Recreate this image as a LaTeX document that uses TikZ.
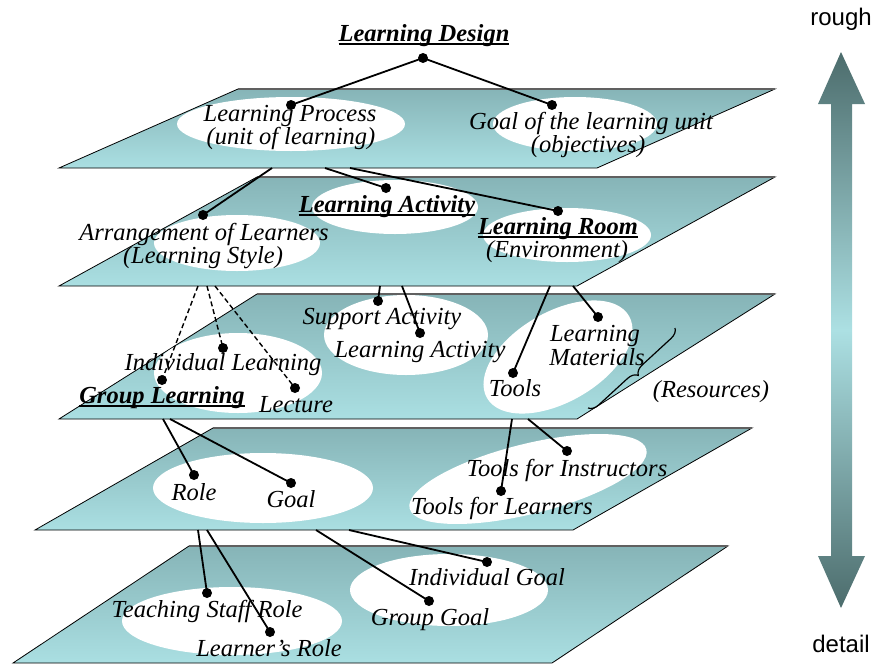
\documentclass[tikz,border=0pt]{standalone}
\usepackage{fontspec}
\setmainfont{Liberation Serif}
\newfontfamily\arialfont{Liberation Sans}
\usetikzlibrary{decorations.pathreplacing}
\definecolor{planeTop}{RGB}{134,180,183}
\definecolor{planeBot}{RGB}{170,223,226}
\definecolor{edgeGray}{RGB}{96,96,96}
\definecolor{arrowDark}{RGB}{76,108,108}
\definecolor{arrowLight}{RGB}{172,224,227}
\newsavebox\ulbox
\newcommand\myul[1]{\sbox\ulbox{#1}\rlap{\rule[-3.5pt]{\wd\ulbox}{1.6pt}}\usebox\ulbox}
\tikzset{
  plane/.style={top color=planeTop, bottom color=planeBot, draw=black, line width=0.8pt, line join=miter},
  topedge/.style={draw=edgeGray, line width=2pt},
  hole/.style={fill=white},
  lbl/.style={inner sep=0pt, anchor=base, font=\itshape\fontsize{24.5}{24}\selectfont},
  blbl/.style={inner sep=0pt, anchor=base, font=\bfseries\itshape\fontsize{24.5}{24}\selectfont},
  sidelbl/.style={inner sep=0pt, anchor=base, font=\arialfont\fontsize{24}{24}\selectfont},
  dot/.style={circle, fill=black, inner sep=0pt, minimum size=10pt},
  conn/.style={line width=1.8pt, draw=black},
  dconn/.style={line width=1.4pt, draw=black, dash pattern=on 5pt off 3pt},
}
\begin{document}
\begin{tikzpicture}[x=1pt, y=-1pt]
\useasboundingbox (0,0) rectangle (875,664);

% ---------- plane 1 ----------
\shadedraw[plane] (238,89) -- (775,89) -- (597,168) -- (59,168) -- cycle;
\draw[topedge] (238,89) -- (775,89);
\fill[hole] (291,124) ellipse [x radius=114pt, y radius=27pt];
\fill[hole] (575,124) ellipse [x radius=82pt, y radius=27pt];
\node[lbl] (tLP1) at (290,121) {Learning Process};
\node[lbl] (tLP2) at (291,144) {(unit of learning)};
\node[lbl] (tGL1) at (591,129) {Goal of the learning unit};
\node[lbl] (tGL2) at (588,152) {(objectives)};

\node[blbl] (tLD) at (424,41) {\myul{Learning Design}};
\node[dot] (dLD) at (423,58) {};
\node[dot] (dLP) at (291,105) {};
\node[dot] (dGL) at (552,105) {};
\draw[conn] (dLD.center) -- (dLP.center);
\draw[conn] (dLD.center) -- (dGL.center);

% ---------- plane 2 ----------
\shadedraw[plane] (257,177) -- (775,177) -- (577,286) -- (59,286) -- cycle;
\draw[topedge] (257,177) -- (775,177);
\fill[hole] (237,243) ellipse [x radius=83pt, y radius=28pt];
\fill[hole] (395,207) ellipse [x radius=83pt, y radius=27pt];
\fill[hole] (567,235) ellipse [x radius=84pt, y radius=27pt];
\node[lbl] (tAR1) at (204,240) {Arrangement of Learners};
\node[lbl] (tAR2) at (203,263) {(Learning Style)};
\node[blbl] (tLA) at (387,212) {\myul{Learning Activity}};
\node[blbl] (tLR1) at (558,234) {\myul{Learning Room}};
\node[lbl] (tLR2) at (557,257) {(Environment)};
\node[dot] (dAR) at (203,215) {};
\node[dot] (dLA) at (386,188) {};
\node[dot] (dLR) at (558,211) {};
\coordinate (a1) at (272,168);
\coordinate (a2) at (325,168);
\coordinate (a3) at (350,168);
\draw[conn] (a1) -- (dAR.center);
\draw[conn] (a2) -- (dLA.center);
\draw[conn] (a3) -- (dLR.center);

% ---------- plane 3 ----------
\shadedraw[plane] (257,294) -- (775,294) -- (577,419) -- (59,419) -- cycle;
\draw[topedge] (257,294) -- (775,294);
\fill[hole] (238,373) ellipse [x radius=84pt, y radius=40pt];
\fill[hole] (406,335) ellipse [x radius=82pt, y radius=40pt];
\fill[hole, rotate around={30:(558,357)}] (558,357) ellipse [x radius=82pt, y radius=45pt];
\node[lbl] (tSA) at (382,324) {Support Activity};
\node[lbl] (tLA3) at (420,357) {Learning Activity};
\node[lbl] (tIL) at (223,370) {Individual Learning};
\node[blbl] (tGLR) at (162,403) {\myul{Group Learning}};
\node[lbl] (tLEC) at (296,412) {Lecture};
\node[lbl] (tLM1) at (595,341) {Learning};
\node[lbl] (tLM2) at (597,365) {Materials};
\node[lbl] (tTO) at (515,396) {Tools};
\node[lbl] (tRES) at (711,397) {(Resources)};
\node[dot] (dGLR) at (162,380) {};
\node[dot] (dIL) at (223,348) {};
\node[dot] (dLEC) at (295,388) {};
\node[dot] (dSA) at (378,301) {};
\node[dot] (dLA3) at (420,333) {};
\node[dot] (dTO) at (513,373) {};
\node[dot] (dLM) at (598,317) {};
\coordinate (b1) at (198,286);
\coordinate (b2) at (207,286);
\coordinate (b3) at (215,286);
\coordinate (b4) at (380,286);
\coordinate (b5) at (402,286);
\coordinate (b6) at (550,286);
\coordinate (b7) at (573,286);
\draw[dconn] (b1) -- (dGLR.center);
\draw[dconn] (b2) -- (dIL.center);
\draw[dconn] (b3) -- (dLEC.center);
\draw[conn] (b4) -- (dSA.center);
\draw[conn] (b5) -- (dLA3.center);
\draw[conn] (b6) -- (dTO.center);
\draw[conn] (b7) -- (dLM.center);
\coordinate (brT) at (675,328);
\coordinate (brB) at (588,408);
\draw[line width=1.2pt, decorate, decoration={brace, amplitude=10pt}] (brT) -- (brB);

% ---------- plane 4 ----------
\shadedraw[plane] (213,428) -- (752,428) -- (573,530) -- (35,530) -- cycle;
\draw[topedge] (213,428) -- (752,428);
\fill[hole] (263,488) ellipse [x radius=110pt, y radius=35pt];
\fill[hole, rotate around={14:(528,479)}] (528,479) ellipse [x radius=122pt, y radius=35pt];
\node[lbl] (tROLE) at (194,500) {Role};
\node[lbl] (tGOAL) at (291,507) {Goal};
\node[lbl] (tTFI) at (567,476) {Tools for Instructors};
\node[lbl] (tTFL) at (502,514) {Tools for Learners};
\node[dot] (dROLE) at (194,475) {};
\node[dot] (dGOAL) at (291,483) {};
\node[dot] (dTFL) at (501,491) {};
\node[dot] (dTFI) at (567,451) {};
\coordinate (c1) at (163,419);
\coordinate (c2) at (170,419);
\coordinate (c3) at (512,419);
\coordinate (c4) at (528,419);
\draw[conn] (c1) -- (dROLE.center);
\draw[conn] (c2) -- (dGOAL.center);
\draw[conn] (c3) -- (dTFL.center);
\draw[conn] (c4) -- (dTFI.center);

% ---------- plane 5 ----------
\shadedraw[plane] (189,546) -- (728,546) -- (552,663) -- (13,663) -- cycle;
\draw[topedge] (189,546) -- (728,546);
\fill[hole] (232,621) ellipse [x radius=110pt, y radius=34pt];
\fill[hole] (449,590) ellipse [x radius=99pt, y radius=36pt];
\node[lbl] (tTSR) at (207,617) {Teaching Staff Role};
\node[lbl] (tLRR) at (269,656) {Learner’s Role};
\node[lbl] (tIG) at (487,585) {Individual Goal};
\node[lbl] (tGG) at (430,625) {Group Goal};
\node[dot] (dTSR) at (207,593) {};
\node[dot] (dLRR) at (270,632) {};
\node[dot] (dGG) at (429,601) {};
\node[dot] (dIG) at (487,562) {};
\coordinate (e1) at (198,530);
\coordinate (e2) at (207,530);
\coordinate (e3) at (316,530);
\coordinate (e4) at (349,530);
\draw[conn] (e1) -- (dTSR.center);
\draw[conn] (e2) -- (dLRR.center);
\draw[conn] (e3) -- (dGG.center);
\draw[conn] (e4) -- (dIG.center);

% ---------- side arrow ----------
\shade[top color=arrowDark, bottom color=arrowDark, middle color=arrowLight]
  (841,52) -- (865,104) -- (852,104) -- (852,556) -- (865,556) -- (841,608)
  -- (818,556) -- (831,556) -- (831,104) -- (818,104) -- cycle;
\node[sidelbl] (tROUGH) at (841,25) {rough};
\node[sidelbl] (tDETAIL) at (841,652) {detail};
\end{tikzpicture}
\end{document}
